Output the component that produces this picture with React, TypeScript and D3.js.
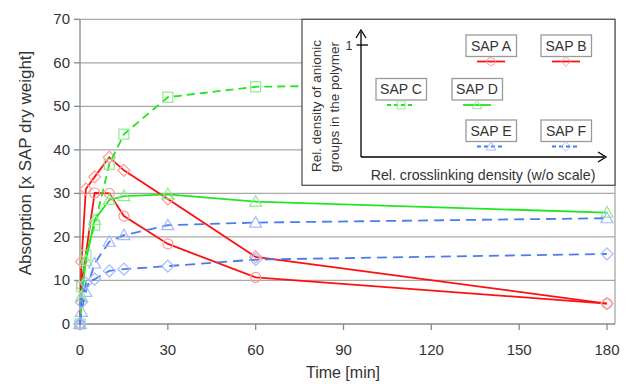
import * as d3 from "d3";

// ── Data — absorption over time per SAP ───────────────────────
const TIME_A = [0, 0.5, 5, 10, 15, 30, 60, 180];
const ABS_A = [0, 9, 30.1, 30, 24.8, 18.4, 10.7, 4.7];

const TIME_B = [0, 0.5, 2, 5, 10, 15, 30, 60, 180];
const ABS_B = [0, 14.3, 31, 33.8, 38.3, 35.3, 28.7, 15.4, 4.7];

const TIME_C = [0, 0.5, 2, 5, 10, 15, 30, 60, 180];
const ABS_C = [0, 8.6, 15.8, 22.7, 36.7, 43.6, 52.1, 54.5, 55.5];

const TIME_D = [0, 0.5, 2, 5, 10, 15, 30, 60, 180];
const ABS_D = [0, 6.3, 14.5, 23.9, 28.5, 29.4, 29.8, 28.1, 25.6];

const TIME_E = [0, 0.5, 2, 5, 10, 15, 30, 60, 180];
const ABS_E = [0, 2.8, 7.4, 13.9, 18.9, 20.4, 22.7, 23.3, 24.3];

const TIME_F = [0, 0.5, 2, 5, 10, 15, 30, 60, 180];
const ABS_F = [0, 5, 9.4, 10.3, 12.2, 12.6, 13.3, 14.8, 16.1];

const X_TICKS = [0, 30, 60, 90, 120, 150, 180];
const Y_TICKS = [0, 10, 20, 30, 40, 50, 60, 70];

type Shape = "circle" | "diamond" | "square" | "triangle";

interface Series {
  label: string;
  time: number[];
  abs: number[];
  line: string;
  marker: string;
  dash: string | null;
  shape: Shape;
}

const RED = "#ff1010";
const RED_M = "#ff9a9a";
const GREEN = "#22e622";
const GREEN_M = "#8fec8f";
const BLUE = "#4a7cf0";
const BLUE_M = "#a3baff";

const SERIES: Series[] = [
  { label: "SAP A", time: TIME_A, abs: ABS_A, line: RED, marker: RED_M, dash: null, shape: "circle" },
  { label: "SAP B", time: TIME_B, abs: ABS_B, line: RED, marker: RED_M, dash: null, shape: "diamond" },
  { label: "SAP C", time: TIME_C, abs: ABS_C, line: GREEN, marker: GREEN_M, dash: "8 5", shape: "square" },
  { label: "SAP D", time: TIME_D, abs: ABS_D, line: GREEN, marker: GREEN_M, dash: null, shape: "triangle" },
  { label: "SAP E", time: TIME_E, abs: ABS_E, line: BLUE, marker: BLUE_M, dash: "10 6", shape: "triangle" },
  { label: "SAP F", time: TIME_F, abs: ABS_F, line: BLUE, marker: BLUE_M, dash: "10 6", shape: "diamond" },
];

// ── Geometry ──────────────────────────────────────────────────
const W = 630;
const H = 384;
const X0 = 80;
const X1 = 607;
const RIGHT = 615;
const Y0 = 324;
const Y1 = 19.3;
const FONT = "'Liberation Sans', Arial, sans-serif";
const TEXT = "#333";

const x = d3.scaleLinear().domain([0, 180]).range([X0, X1]);
const y = d3.scaleLinear().domain([0, 70]).range([Y0, Y1]);

function Marker({ shape, cx, cy, color }: { shape: Shape; cx: number; cy: number; color: string }) {
  const s = 5;
  if (shape === "circle")
    return <circle cx={cx} cy={cy} r={s} fill="none" stroke={color} strokeWidth={1.2} />;
  if (shape === "square")
    return <rect x={cx - s} y={cy - s} width={2 * s} height={2 * s} fill="none" stroke={color} strokeWidth={1.2} />;
  if (shape === "diamond")
    return (
      <path d={`M${cx},${cy - 6}L${cx + 6},${cy}L${cx},${cy + 6}L${cx - 6},${cy}Z`}
        fill="none" stroke={color} strokeWidth={1.2} />
    );
  return (
    <path d={`M${cx},${cy - 6}L${cx + 6},${cy + 4.5}L${cx - 6},${cy + 4.5}Z`}
      fill="none" stroke={color} strokeWidth={1.2} />
  );
}

// ── Legend: position of each SAP in crosslinking / anionic space ─
const LEGEND_POS: Record<string, [number, number]> = {
  "SAP A": [466, 35],
  "SAP B": [541, 35],
  "SAP C": [376, 78.5],
  "SAP D": [452, 78.5],
  "SAP E": [466, 120],
  "SAP F": [541, 120],
};

function Legend() {
  return (
    <g fontFamily={FONT}>
      <rect x={302} y={19.3} width={RIGHT - 302} height={166} fill="#fff" stroke="#555" strokeWidth={1.3} />
      {/* axes arrows */}
      <line x1={361} y1={157} x2={361} y2={32} stroke="#000" strokeWidth={1.3} />
      <path d="M356,38 L361,30 L366,38" fill="none" stroke="#000" strokeWidth={1.3} />
      <line x1={361} y1={157} x2={604} y2={157} stroke="#000" strokeWidth={1.3} />
      <path d="M598,152 L606,157 L598,162" fill="none" stroke="#000" strokeWidth={1.3} />
      <line x1={356.5} y1={45} x2={368} y2={45} stroke="#000" strokeWidth={1.3} />
      <text x={349} y={49.5} fontSize={12.5} fill={TEXT} textAnchor="middle">1</text>
      <text transform="translate(321,106) rotate(-90)" fontSize={13.5} fill={TEXT} textAnchor="middle">
        Rel. density of anionic
      </text>
      <text transform="translate(339,107) rotate(-90)" fontSize={13.5} fill={TEXT} textAnchor="middle">
        groups in the polymer
      </text>
      <text x={483} y={180} fontSize={14.2} fill={TEXT} textAnchor="middle">
        Rel. crosslinking density (w/o scale)
      </text>
      {SERIES.map((s) => {
        const [bx, by] = LEGEND_POS[s.label];
        const cx = bx + 25;
        const ly = by + 26.5;
        return (
          <g key={s.label}>
            <rect x={bx} y={by} width={50.5} height={21.5} fill="#fff" stroke="#9a9a9a" strokeWidth={1.3} />
            <text x={cx} y={by + 15.8} fontSize={14} fill={TEXT} textAnchor="middle">{s.label}</text>
            <line x1={cx - 14} x2={cx + 14} y1={ly} y2={ly} stroke={s.line} strokeWidth={1.8}
              strokeDasharray={s.dash ? "4 3" : undefined} />
            <g transform={`translate(${cx},${ly}) scale(0.8) translate(${-cx},${-ly})`}>
              <Marker shape={s.shape} cx={cx} cy={ly} color={s.marker} />
            </g>
          </g>
        );
      })}
    </g>
  );
}

export default function App() {
  const line = d3
    .line<[number, number]>()
    .x((d) => x(d[0]))
    .y((d) => y(d[1]));

  return (
    <svg width={W} height={H} style={{ position: "absolute", left: 0, top: 0 }}>
      <rect x={0} y={0} width={W} height={H} fill="#fff" />
      {/* gridlines */}
      {Y_TICKS.filter((t) => t > 0).map((t) => (
        <line key={`g${t}`} x1={X0} x2={RIGHT} y1={y(t)} y2={y(t)} stroke="#a8a8a8" strokeWidth={1.3} />
      ))}
      <line x1={RIGHT} x2={RIGHT} y1={Y1} y2={Y0} stroke="#a8a8a8" strokeWidth={1.3} />
      {/* axes */}
      <line x1={X0} x2={X0} y1={Y1} y2={Y0} stroke="#8a8a8a" strokeWidth={1.3} />
      <line x1={X0} x2={RIGHT} y1={Y0} y2={Y0} stroke="#8a8a8a" strokeWidth={1.3} />
      {Y_TICKS.map((t) => (
        <g key={`yt${t}`}>
          <line x1={X0 - 6} x2={X0} y1={y(t)} y2={y(t)} stroke="#8a8a8a" strokeWidth={1.3} />
          <text x={X0 - 10} y={y(t) + 5} fontSize={15} fontFamily={FONT} fill={TEXT} textAnchor="end">{t}</text>
        </g>
      ))}
      {X_TICKS.map((t) => (
        <g key={`xt${t}`}>
          <line x1={x(t)} x2={x(t)} y1={Y0} y2={Y0 + 6} stroke="#8a8a8a" strokeWidth={1.3} />
          <text x={x(t)} y={355} fontSize={15} fontFamily={FONT} fill={TEXT} textAnchor="middle">{t}</text>
        </g>
      ))}
      <text x={343} y={378} fontSize={16} fontFamily={FONT} fill={TEXT} textAnchor="middle">Time [min]</text>
      <text transform="translate(31,163) rotate(-90)" fontSize={17} fontFamily={FONT} fill={TEXT} textAnchor="middle">
        Absorption [x SAP dry weight]
      </text>

      {/* series */}
      {SERIES.map((s) => {
        const pts = s.time.map((t, i) => [t, s.abs[i]] as [number, number]);
        return (
          <g key={s.label}>
            <path d={line(pts) ?? ""} fill="none" stroke={s.line} strokeWidth={1.8}
              strokeDasharray={s.dash ?? undefined} />
            {pts.map((p, i) => (
              <Marker key={i} shape={s.shape} cx={x(p[0])} cy={y(p[1])} color={s.marker} />
            ))}
          </g>
        );
      })}

      <Legend />
    </svg>
  );
}
